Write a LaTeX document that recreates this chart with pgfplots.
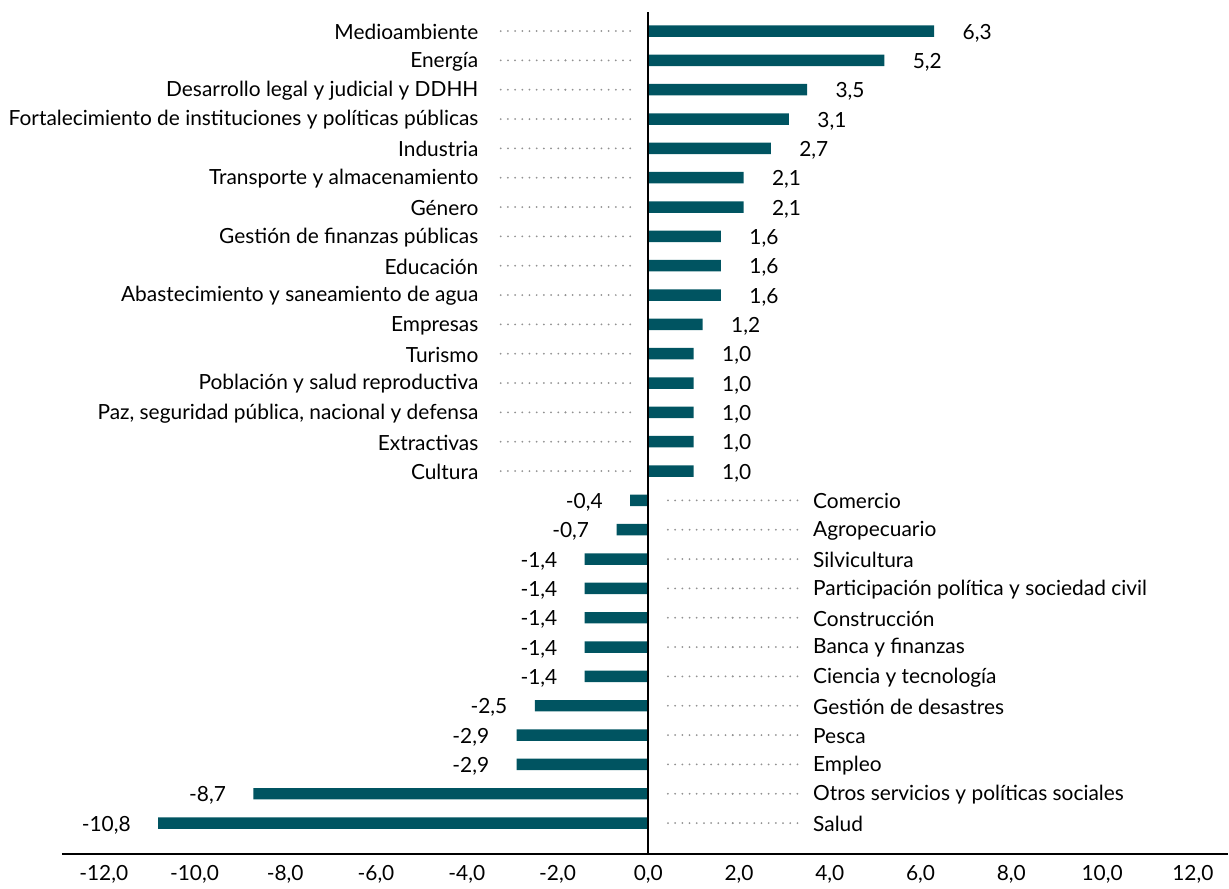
\documentclass[border=0pt]{standalone}
\usepackage{fontspec}
\setmainfont{Lato}
\usepackage{pgfplots}
\pgfplotsset{compat=1.18}
\usepackage{pgfplotstable}
\definecolor{barc}{RGB}{0,84,97}
\definecolor{dotc}{RGB}{145,145,145}
\newcommand{\lblfont}{\fontsize{20.9}{24}\selectfont}

\pgfplotstableread[col sep=semicolon]{
y;val;lab
27;6.3;Medioambiente
26;5.2;Energía
25;3.5;Desarrollo legal y judicial y DDHH
24;3.1;Fortalecimiento de instituciones y políticas públicas
23;2.7;Industria
22;2.1;Transporte y almacenamiento
21;2.1;Género
20;1.6;Gestión de finanzas públicas
19;1.6;Educación
18;1.6;Abastecimiento y saneamiento de agua
17;1.2;Empresas
16;1.0;Turismo
15;1.0;Población y salud reproductiva
14;1.0;Paz, seguridad pública, nacional y defensa
13;1.0;Extractivas
12;1.0;Cultura
}\pos

\pgfplotstableread[col sep=semicolon]{
y;val;lab
11;-0.4;Comercio
10;-0.7;Agropecuario
9;-1.4;Silvicultura
8;-1.4;Participación política y sociedad civil
7;-1.4;Construcción
6;-1.4;Banca y finanzas
5;-1.4;Ciencia y tecnología
4;-2.5;Gestión de desastres
3;-2.9;Pesca
2;-2.9;Empleo
1;-8.7;Otros servicios y políticas sociales
0;-10.8;Salud
}\neg

\begin{document}
\begin{tikzpicture}
\begin{axis}[
  scale only axis, width=1167pt, height=843pt,
  xmin=-12.92, xmax=12.77, ymin=-1.06, ymax=27.65,
  axis x line=bottom, axis y line=none,
  axis line style={-, line width=2.4pt, black},
  xtick={-12,-10,...,12}, ytick=\empty,
  major tick length=0pt,
  xticklabel style={font=\lblfont, text=black, yshift=-8pt},
  /pgf/number format/.cd, fixed, fixed zerofill, precision=1, use comma, assume math mode=true,
  /pgfplots/.cd,
  clip=false,
]
% leader dots
\addplot[draw=none, mark=none, forget plot,
  error bars/.cd, x dir=both, x fixed=1.535, error mark=none,
  error bar style={dotc, line width=2pt, dash pattern=on 0pt off 7.2pt, line cap=round}]
  table[x expr=-1.825, y=y] {\pos};
\addplot[draw=none, mark=none, forget plot,
  error bars/.cd, x dir=both, x fixed=1.55, error mark=none,
  error bar style={dotc, line width=2pt, dash pattern=on 0pt off 7.2pt, line cap=round}]
  table[x expr=1.86, y=y] {\neg};
% bars
\addplot[xbar, bar shift=0pt, bar width=11.5pt, fill=barc, draw=none,
  nodes near coords,
  nodes near coords style={anchor=west, xshift=25pt, yshift=-2pt, font=\lblfont, text=black}]
  table[x=val, y=y] {\pos};
\addplot[xbar, bar shift=0pt, bar width=11.5pt, fill=barc, draw=none,
  nodes near coords,
  nodes near coords style={anchor=east, xshift=-24pt, yshift=-2pt, font=\lblfont, text=black}]
  table[x=val, y=y] {\neg};
% zero line
\addplot[black, line width=2.4pt, mark=none] coordinates {(0,-1.06) (0,27.65)};
% category labels
\addplot[only marks, mark=*, mark size=0pt, mark options={draw=none, fill=none},
  nodes near coords, point meta=explicit symbolic,
  nodes near coords style={anchor=east, inner sep=0pt, yshift=-1pt, font=\lblfont, text=black}]
  table[x expr=-3.74, y=y, meta=lab] {\pos};
\addplot[only marks, mark=*, mark size=0pt, mark options={draw=none, fill=none},
  nodes near coords, point meta=explicit symbolic,
  nodes near coords style={anchor=west, inner sep=0pt, yshift=-1pt, font=\lblfont, text=black}]
  table[x expr=3.63, y=y, meta=lab] {\neg};
\path (rel axis cs:0,0) ++(-62pt,-34pt) coordinate (bl);
\path (rel axis cs:1,1) ++(0pt,12pt) coordinate (tr);
\end{axis}
\path (bl) rectangle (tr);
\end{tikzpicture}
\end{document}
